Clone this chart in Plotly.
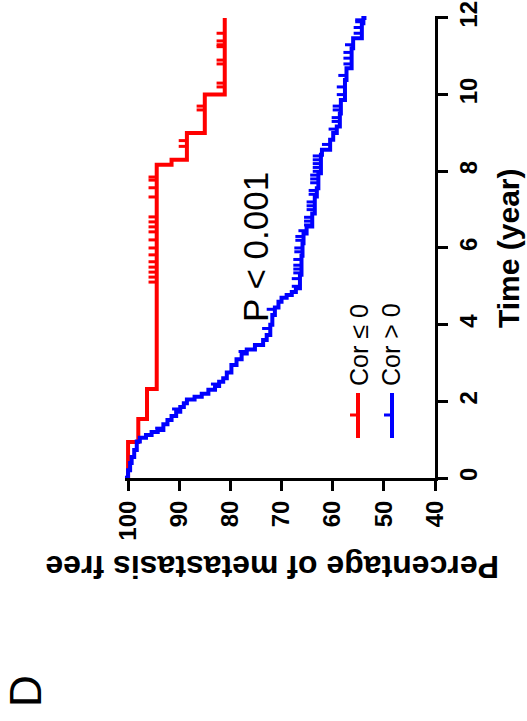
import plotly.graph_objects as go

# ---------------- data ----------------
# Cor <= 0 group (red): Kaplan-Meier step points (time in years, % metastasis free)
red_time = [0, 0.94, 1.54, 2.32, 8.17, 8.30, 9.00, 10.00, 12.00]
red_surv = [100, 98.0, 96.3, 94.4, 91.5, 88.5, 85.0, 81.1, 81.1]
red_censor_time = [5.11, 5.24, 5.37, 5.50, 5.64, 5.82, 6.00, 6.21, 6.42, 6.55, 6.68,
                   6.81, 7.33, 7.57, 7.77, 7.85, 8.65, 8.80, 9.60, 9.70, 10.2, 10.3,
                   10.8, 10.9, 11.25, 11.3, 11.4, 11.6]

# Cor > 0 group (blue)
blue_time = [0, 0.2, 0.39, 0.55, 0.73, 0.95, 1.05, 1.12, 1.2, 1.25, 1.4, 1.51, 1.62,
             1.73, 1.85, 1.95, 2.05, 2.12, 2.2, 2.3, 2.4, 2.51, 2.6, 2.75, 2.95, 3.1,
             3.25, 3.35, 3.47, 3.6, 3.73, 4.0, 4.25, 4.45, 4.6, 4.7, 4.77, 4.85, 4.95,
             5.3, 5.8, 6.12, 6.38, 6.56, 6.9, 7.34, 7.56, 7.95, 8.43, 8.56, 8.82, 9.0,
             9.17, 9.51, 9.86, 10.38, 10.69, 11.21, 11.47, 11.86, 12.0]
blue_surv = [100, 99.6, 99.3, 98.8, 98.3, 97.7, 96.5, 95.4, 94.2, 93.1, 92.3, 91.5, 90.6,
             89.8, 89.1, 88.5, 87.0, 85.6, 84.3, 83.0, 82.2, 81.4, 80.7, 79.8, 78.8, 77.8,
             76.8, 75.2, 73.6, 72.9, 72.2, 71.8, 71.3, 70.6, 70.0, 69.0, 68.0, 67.2, 66.4,
             66.1, 65.9, 65.7, 65.1, 64.0, 63.5, 63.1, 62.8, 62.3, 62.1, 60.5, 59.9, 59.2,
             58.6, 58.4, 57.6, 57.3, 56.3, 56.0, 54.3, 54.0, 53.4]
blue_censor_time = [0.02, 1.3, 1.8, 2.45, 3.3, 3.9, 4.4, 5.0, 5.2, 5.35, 5.45, 5.55, 5.7,
                    5.9, 6.0, 6.2, 6.3, 6.45, 6.6, 6.7, 6.8, 7.0, 7.1, 7.2, 7.4, 7.5, 7.7,
                    7.8, 7.9, 8.0, 8.1, 8.2, 8.3, 8.4, 8.7, 9.1, 9.3, 9.4, 9.6, 9.7, 10.0,
                    10.2, 10.5, 10.8, 10.95, 11.1, 11.3, 11.6, 11.75, 11.9, 11.95]

time_ticks = [0, 2, 4, 6, 8, 10, 12]
pct_ticks = [100, 90, 80, 70, 60, 50, 40]

group_labels = ["Cor \u2264 0", "Cor > 0"]
p_label = "P < 0.001"
x_title = "Percentage of metastasis free"
y_title = "Time (year)"
panel_label = "D"

RED = "#FF0000"
BLUE = "#0000FF"
FONT = "Liberation Sans, Arial, sans-serif"


def km_at(times, survs, t):
    """Kaplan-Meier step value at time t."""
    s = survs[0]
    for ti, si in zip(times, survs):
        if ti <= t:
            s = si
    return s


fig = go.Figure()

# Chart is drawn rotated: x = % metastasis free (reversed), y = time
for times, survs, cens, col in [(red_time, red_surv, red_censor_time, RED),
                                (blue_time, blue_surv, blue_censor_time, BLUE)]:
    fig.add_trace(go.Scatter(x=survs, y=times, mode="lines", line_shape="vh",
                             line=dict(color=col, width=4), showlegend=False,
                             hoverinfo="skip"))
    cs = [km_at(times, survs, t) for t in cens]
    fig.add_trace(go.Scatter(x=cs, y=cens, mode="markers",
                             marker=dict(size=1, color=col, opacity=0),
                             error_x=dict(type="constant", symmetric=False, value=1.6,
                                          valueminus=0, width=0, thickness=3, color=col),
                             showlegend=False, hoverinfo="skip", cliponaxis=False))

# plot area in pixels
L, R, T, B = 125, 435, 16, 478
W, H = R - L, B - T


def px(xp):
    return (xp - L) / W


def py(yp):
    return (B - yp) / H


annotations = [
    dict(text=p_label, x=px(255), y=py(247), textangle=-90,
         font=dict(family=FONT, size=35, color="black")),
    dict(text=group_labels[0], x=px(359), y=py(345), textangle=-90,
         font=dict(family=FONT, size=25, color="black")),
    dict(text=group_labels[1], x=px(391), y=py(345), textangle=-90,
         font=dict(family=FONT, size=25, color="black")),
    dict(text=y_title, x=px(508), y=py(248), textangle=-90,
         font=dict(family=FONT, size=30, color="black", weight="bold")),
    dict(text=x_title, x=px(272), y=py(567), textangle=180,
         font=dict(family=FONT, size=32, color="black", weight="bold")),
    dict(text=panel_label, x=px(25), y=py(691), textangle=-90,
         font=dict(family=FONT, size=44, color="black")),
]
for a in annotations:
    a.update(xref="paper", yref="paper", showarrow=False,
             xanchor="center", yanchor="middle")

shapes = []
for lx, col in [(358, RED), (392, BLUE)]:
    shapes.append(dict(type="line", xref="paper", yref="paper",
                       x0=px(lx), x1=px(lx), y0=py(393), y1=py(438),
                       line=dict(color=col, width=4)))
    shapes.append(dict(type="line", xref="paper", yref="paper",
                       x0=px(lx - 8), x1=px(lx), y0=py(415), y1=py(415),
                       line=dict(color=col, width=3)))

fig.update_layout(
    width=527, height=721,
    margin=dict(l=L, r=527 - R, t=T, b=721 - B, autoexpand=False),
    paper_bgcolor="white", plot_bgcolor="white",
    showlegend=False,
    annotations=annotations,
    shapes=shapes,
    xaxis=dict(range=[100.6, 40], tickvals=pct_ticks, ticktext=[str(v) for v in pct_ticks],
               tickangle=-90, ticks="outside", ticklen=10, tickwidth=3, tickcolor="black",
               showline=True, linewidth=3, linecolor="black", showgrid=False,
               zeroline=False, automargin=False,
               tickfont=dict(family=FONT, size=24, color="black", weight="bold")),
    yaxis=dict(range=[0, 12.05], tickvals=time_ticks, ticktext=[str(v) for v in time_ticks],
               side="right", tickangle=-90, ticks="outside", ticklen=10, tickwidth=3,
               tickcolor="black", showline=True, linewidth=3, linecolor="black",
               showgrid=False, zeroline=False, automargin=False,
               tickfont=dict(family=FONT, size=24, color="black", weight="bold")),
)

fig.write_html("out.html", config={"displayModeBar": False},
               post_script="document.body.style.margin='0';"
                           "document.body.style.overflow='hidden';")
